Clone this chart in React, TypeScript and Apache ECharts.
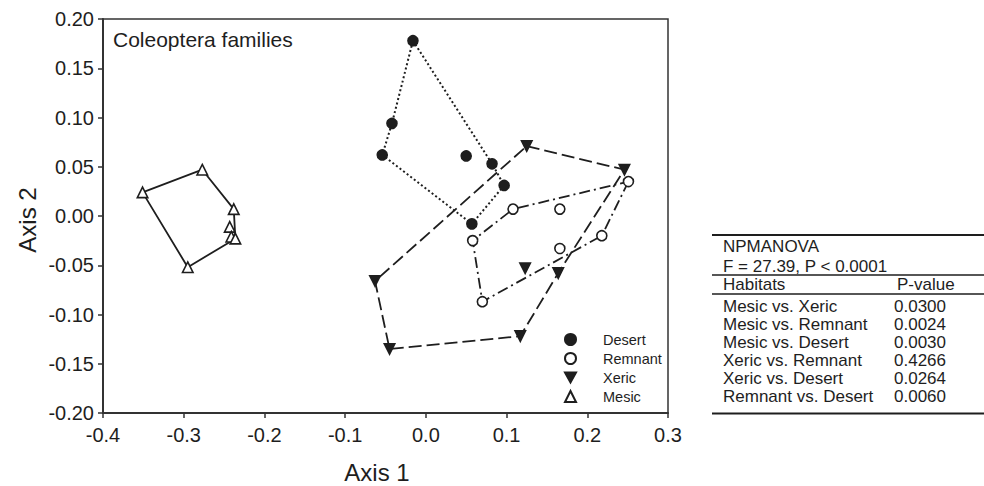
import React, { useEffect, useRef } from "react";
import * as echarts from "echarts";

// ---- data ----
const desert: number[][] = [
  [-0.016, 0.178], [-0.042, 0.094], [-0.054, 0.062], [0.050, 0.061],
  [0.082, 0.053], [0.097, 0.031], [0.057, -0.008],
];
const desertHull = [0, 4, 5, 6, 2, 1, 0];

const remnant: number[][] = [
  [0.251, 0.035], [0.108, 0.007], [0.166, 0.007], [0.058, -0.025],
  [0.166, -0.033], [0.218, -0.020], [0.070, -0.087],
];
const remnantHull = [0, 5, 6, 3, 1, 0];

const xeric: number[][] = [
  [0.125, 0.071], [0.246, 0.047], [-0.063, -0.066], [-0.045, -0.135],
  [0.117, -0.122], [0.123, -0.053], [0.164, -0.058],
];
const xericHull = [0, 1, 6, 4, 3, 2, 0];

const mesic: number[][] = [
  [-0.351, 0.024], [-0.277, 0.047], [-0.238, 0.007], [-0.243, -0.011],
  [-0.241, -0.021], [-0.236, -0.023], [-0.295, -0.052],
];
const mesicHull = [0, 1, 2, 5, 6, 0];

const groupNames = ["Desert", "Remnant", "Xeric", "Mesic"];

const tableTitle = "NPMANOVA";
const tableStat = "F = 27.39, P < 0.0001";
const tableHeaders = ["Habitats", "P-value"];
const comparisons = [
  "Mesic vs. Xeric",
  "Mesic vs. Remnant",
  "Mesic vs. Desert",
  "Xeric vs. Remnant",
  "Xeric vs. Desert",
  "Remnant vs. Desert",
];
const pValues = ["0.0300", "0.0024", "0.0030", "0.4266", "0.0264", "0.0060"];

const panelLabel = "Coleoptera families";
const xName = "Axis 1";
const yName = "Axis 2";

const FONT = "'Liberation Sans', Arial, Helvetica, sans-serif";
const INK = "#1e1e1e";

export default function App() {
  const ref = useRef<HTMLDivElement>(null);
  useEffect(() => {
    if (!ref.current) return;
    const chart = echarts.init(ref.current, undefined, { renderer: "svg" });

    const hull = (pts: number[][], idx: number[]) => idx.map((i) => pts[i]);
    const lineSeries = (name: string, pts: number[][], idx: number[], type: any, width = 1.8) => ({
      type: "line",
      name: name + " hull",
      data: hull(pts, idx),
      symbol: "none",
      silent: true,
      z: 2,
      lineStyle: { color: INK, width, type },
    });
    const scatter = (name: string, pts: number[][], symbol: string, fill: string, rotate = 0) => ({
      type: "scatter",
      name,
      data: pts,
      symbol,
      symbolSize: symbol === "circle" ? 10 : 10.5,
      symbolRotate: rotate,
      z: 5,
      itemStyle: { color: fill, borderColor: INK, borderWidth: 1.6, opacity: 1 },
    });

    const graphics: any[] = [];
    const txt = (text: string, x: number, y: number, size: number) => ({
      type: "text",
      x,
      y,
      style: {
        text,
        fill: INK,
        fontSize: size,
        fontFamily: FONT,
        align: "left",
        verticalAlign: "middle",
      },
    });
    graphics.push(txt(panelLabel, 113, 39, 21));
    graphics.push({
      type: "text",
      x: 377,
      y: 472,
      style: { text: xName, fill: INK, fontSize: 24, fontFamily: FONT, align: "center", verticalAlign: "middle" },
    });
    graphics.push({
      type: "text",
      x: 27,
      y: 220,
      rotation: Math.PI / 2,
      style: { text: yName, fill: INK, fontSize: 24, fontFamily: FONT, align: "center", verticalAlign: "middle" },
    });

    // table
    const hline = (y: number, w: number) => ({
      type: "line",
      shape: { x1: 712, y1: y, x2: 984, y2: y },
      style: { stroke: INK, lineWidth: w },
    });
    graphics.push(hline(235, 2), hline(275, 1.5), hline(294, 1.5), hline(413.5, 2));
    graphics.push(txt(tableTitle, 723, 246, 17));
    graphics.push(txt(tableStat, 723, 266, 17));
    graphics.push(txt(tableHeaders[0], 723, 284.5, 17));
    graphics.push(txt(tableHeaders[1], 897, 284.5, 17));
    comparisons.forEach((c, i) => {
      graphics.push(txt(c, 723, 306.5 + i * 18, 17));
      graphics.push(txt(pValues[i], 894, 306.5 + i * 18, 17));
    });

    const clean = (v: number) => (Math.abs(v) < 1e-9 ? 0 : v);

    chart.setOption({
      animation: false,
      backgroundColor: "#fff",
      textStyle: { fontFamily: FONT },
      grid: {
        left: 103,
        top: 19,
        width: 565,
        height: 394,
        show: true,
        borderColor: "#333",
        borderWidth: 1.5,
        backgroundColor: "transparent",
      },
      xAxis: {
        type: "value",
        min: -0.4,
        max: 0.3,
        interval: 0.1,
        axisLine: { show: true, onZero: false, lineStyle: { color: "#333", width: 2 } },
        axisTick: { show: true, length: 5, lineStyle: { color: "#333", width: 1.5 } },
        splitLine: { show: false },
        axisLabel: {
          color: INK,
          fontSize: 20,
          fontFamily: FONT,
          margin: 12,
          formatter: (v: number) => clean(v).toFixed(1),
        },
      },
      yAxis: {
        type: "value",
        min: -0.2,
        max: 0.2,
        interval: 0.05,
        axisLine: { show: true, onZero: false, lineStyle: { color: "#333", width: 2 } },
        axisTick: { show: true, length: 5, lineStyle: { color: "#333", width: 1.5 } },
        splitLine: { show: false },
        axisLabel: {
          color: INK,
          fontSize: 20,
          fontFamily: FONT,
          margin: 9,
          formatter: (v: number) => clean(v).toFixed(2),
        },
      },
      legend: {
        orient: "vertical",
        left: 559,
        top: 327,
        itemWidth: 11,
        itemHeight: 11,
        itemGap: 4,
        data: groupNames.map((n) =>
          n === "Xeric" ? { name: n, icon: "path://M0,0 L10,0 L5,9 Z" } : { name: n }
        ),
        textStyle: { color: INK, fontSize: 14.5, fontFamily: FONT, padding: [0, 0, 0, 22] },
      },
      series: [
        lineSeries("Desert", desert, desertHull, [2, 2.5], 2),
        lineSeries("Remnant", remnant, remnantHull, [11, 4, 2, 4]),
        lineSeries("Xeric", xeric, xericHull, [13, 5]),
        lineSeries("Mesic", mesic, mesicHull, "solid"),
        scatter("Desert", desert, "circle", INK),
        scatter("Remnant", remnant, "circle", "#fff"),
        scatter("Xeric", xeric, "triangle", INK, 180),
        scatter("Mesic", mesic, "triangle", "#fff"),
      ],
      graphic: graphics,
    });
    return () => chart.dispose();
  }, []);
  return (
    <div
      ref={ref}
      style={{ position: "fixed", left: 0, top: 0, width: 984, height: 486, background: "#fff" }}
    />
  );
}
